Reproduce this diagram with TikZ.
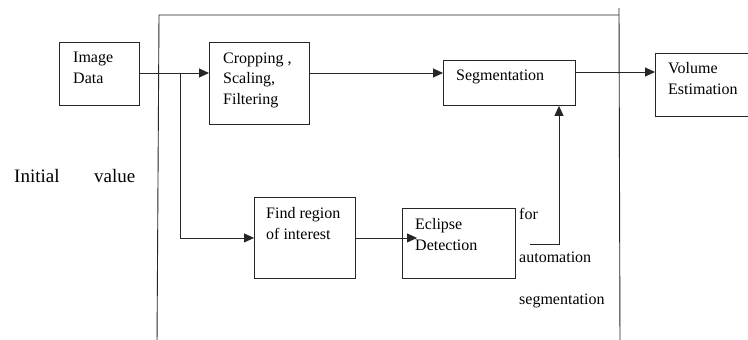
\documentclass[tikz,border=0pt]{standalone}
\usepackage{fontspec}
\setmainfont{Liberation Serif}
\usetikzlibrary{arrows.meta,calc}
\begin{document}
\begin{tikzpicture}[x=1pt,y=-1pt,
  ln/.style={line width=0.9pt,draw=black!85},
  box/.style={ln,rectangle,inner sep=0pt,anchor=north west},
  txt/.style={inner sep=0pt,anchor=base west,align=left,font=\fontsize{16}{20.5}\selectfont},
  arr/.style={ln,-{Triangle[length=10pt,width=9pt]}}]
\clip (0,0) rectangle (748,340);
\fill[white] (0,0) rectangle (748,340);
% frame
\draw[ln] (157,345) -- (159,15) -- (619,15);
\draw[ln] (619,8) -- (620,345);
% boxes
\node[box,minimum width=80pt,minimum height=63pt] (img) at (59,42) {};
\node[box,minimum width=100pt,minimum height=82pt] (crop) at (209,42) {};
\node[box,minimum width=132pt,minimum height=45pt] (seg) at (443,60) {};
\node[box,minimum width=120pt,minimum height=63pt] (vol) at (655,53) {};
\node[box,minimum width=101pt,minimum height=81pt] (fr) at (254,197) {};
\node[box,minimum width=113pt,minimum height=70pt] (ecl) at (402,208) {};
% texts (multi-line nodes are placed by the baseline of their last line)
\node[txt] (imgt) at (73,83) {Image\\Data};
\node[txt] (cropt) at (223,104) {Cropping ,\\Scaling,\\Filtering};
\node[txt] (segt) at (456,80) {Segmentation};
\node[txt] (volt) at (668,94) {Volume\\Estimation};
\node[txt] (frt) at (266,239) {Find region\\of interest};
\node[txt] (eclt) at (415,250) {Eclipse\\Detection};
\node[txt] (for) at (519,219) {for};
\node[txt] (auto) at (519,262) {automation};
\node[txt] (segm) at (519,304) {segmentation};
\node[txt,font=\fontsize{19}{23}\selectfont] (init) at (14,182) {Initial};
\node[txt,font=\fontsize{19}{23}\selectfont] (val) at (94,182) {value};
% connectors
\coordinate (br) at (180,73);
\coordinate (fa) at (530,244);
\coordinate (fx) at (559,0);
\draw[arr] (img.east |- br) -- (br -| crop.west);
\draw[ln] (br) -- (br |- fr.east);
\draw[arr] (br |- fr.east) -- (fr.west |- fr.east);
\draw[arr] (br -| crop.east) -- (br -| seg.west);
\draw[arr] ($(br -| seg.east)+(0,-1)$) -- ($(br -| vol.west)+(0,-1)$);
\draw[arr] (fr.east) -- ($(fr.east -| ecl.west)+(15,0)$);
\draw[arr] (fa) -| (seg.south -| fx);
\end{tikzpicture}
\end{document}
